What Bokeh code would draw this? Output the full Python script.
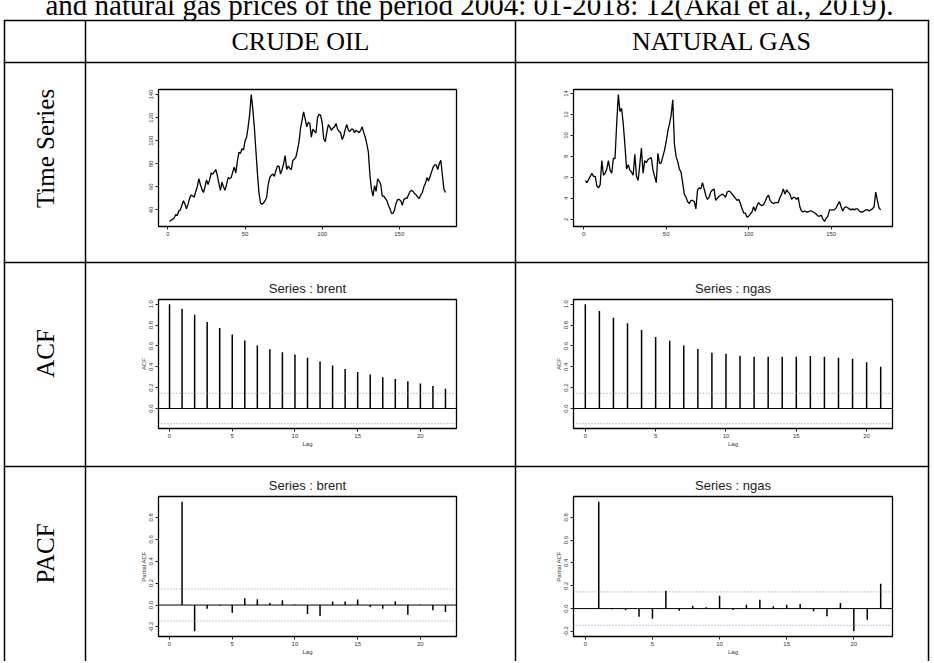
import math
from bokeh.plotting import figure
from bokeh.models import Range1d, FixedTicker, Span, GridBox, ColumnDataSource, PrintfTickFormatter
from bokeh.embed import file_html
from bokeh.resources import INLINE
from bokeh.core.properties import value

# ---------------- data ----------------
months = list(range(1, 181))
brent = [30, 31, 32, 33, 36, 35, 39, 40, 44, 48,
         45, 41, 45, 50, 53, 52, 51, 56, 60, 67,
         62, 58, 55, 60, 66, 62, 66, 72, 71, 73,
         75, 70, 63, 57, 64, 60, 57, 62, 68, 67,
         68, 73, 77, 72, 82, 90, 89, 93, 92, 100,
         103, 112, 123, 140, 128, 112, 92, 72, 55, 46,
         45, 46, 48, 51, 62, 68, 70, 71, 69, 74,
         78, 78, 71, 75, 80, 87, 75, 78, 76, 75,
         83, 84, 86, 92, 99, 111, 118, 125, 119, 112,
         116, 115, 103, 110, 108, 107, 120, 123, 122, 116,
         102, 99, 107, 114, 112, 109, 111, 112, 115, 110,
         108, 107, 101, 104, 110, 114, 109, 108, 110, 110,
         107, 109, 108, 107, 109, 112, 107, 103, 97, 90,
         70, 58, 52, 61, 56, 67, 65, 62, 52, 52,
         50, 48, 44, 41, 37, 37, 40, 46, 49, 49,
         48, 44, 49, 50, 50, 53, 56, 57, 56, 54,
         53, 51, 50, 53, 55, 60, 63, 68, 65, 69,
         73, 77, 79, 79, 75, 80, 83, 70, 58, 55]
ngas = [5.7, 5.5, 5.8, 6.1, 6.4, 6.1, 6.1, 5.2, 5.0, 5.3,
        7.6, 6.2, 6.4, 6.8, 7.6, 6.7, 6.4, 7.8, 7.8, 11.1,
        13.9, 12.3, 12.6, 11.1, 9.1, 6.8, 7.2, 6.7, 6.5, 6.2,
        8.2, 6.1, 5.7, 7.2, 8.8, 6.4, 7.6, 7.4, 7.7, 7.8,
        7.9, 6.7, 6.1, 5.5, 8.3, 7.3, 7.4, 8.0, 8.6, 9.4,
        10.4, 11.1, 11.9, 13.4, 9.2, 8.0, 7.5, 6.8, 6.5, 5.5,
        4.4, 4.1, 3.7, 3.5, 3.8, 3.8, 3.7, 3.0, 4.8, 5.0,
        4.9, 5.5, 4.9, 4.3, 3.9, 4.1, 4.6, 4.8, 4.9, 3.8,
        4.0, 4.2, 4.3, 4.4, 4.3, 4.1, 4.6, 4.7, 4.6, 4.4,
        4.2, 4.0, 3.8, 3.9, 3.5, 3.0, 2.6, 2.6, 2.2, 2.3,
        2.5, 2.7, 3.2, 2.8, 3.3, 3.6, 3.4, 3.3, 3.4, 3.7,
        4.1, 4.3, 3.8, 3.6, 3.5, 3.6, 3.6, 3.6, 4.1, 4.4,
        4.9, 4.4, 4.8, 4.6, 4.4, 3.9, 4.1, 4.1, 3.9, 4.1,
        3.2, 2.8, 2.7, 2.8, 2.7, 2.7, 2.8, 2.8, 2.7, 2.6,
        2.5, 2.3, 2.3, 2.4, 2.0, 1.8, 2.1, 2.3, 2.9, 2.9,
        2.9, 2.9, 3.1, 3.4, 3.7, 3.2, 2.8, 3.1, 3.2, 3.1,
        3.0, 2.9, 3.0, 2.9, 3.0, 3.0, 2.8, 2.7, 2.7, 2.8,
        2.9, 2.9, 2.8, 2.9, 3.0, 3.2, 4.6, 3.8, 3.1, 2.9]

acf_lags_brent = list(range(0, 23))
acf_brent = [1.0, 0.958, 0.90, 0.83, 0.773, 0.709, 0.652, 0.604, 0.569, 0.54,
             0.518, 0.486, 0.45, 0.412, 0.38, 0.351, 0.326, 0.30, 0.284, 0.262,
             0.24, 0.217, 0.19]
acf_lags_ngas = list(range(0, 22))
acf_ngas = [1.0, 0.936, 0.871, 0.819, 0.754, 0.687, 0.649, 0.605, 0.57, 0.535,
            0.526, 0.506, 0.497, 0.497, 0.497, 0.497, 0.503, 0.497, 0.488, 0.477,
            0.444, 0.40]
pacf_lags_brent = list(range(1, 23))
pacf_brent = [0.944, -0.24, -0.035, -0.006, -0.07, 0.061, 0.053, 0.018, 0.044, 0.006,
              -0.082, -0.10, 0.032, 0.032, 0.05, -0.018, -0.035, 0.035, -0.088, 0.006,
              -0.047, -0.064]
pacf_lags_ngas = list(range(1, 23))
pacf_ngas = [0.936, -0.006, -0.015, -0.071, -0.089, 0.157, -0.02, 0.024, 0.012, 0.113,
             -0.012, 0.033, 0.077, 0.021, 0.033, 0.041, -0.024, -0.068, 0.05, -0.199,
             -0.098, 0.217]

ts_xticks = [0, 50, 100, 150]
brent_yticks = [40, 60, 80, 100, 120, 140]
ngas_yticks = [2, 4, 6, 8, 10, 12, 14]
lag_ticks = [0, 5, 10, 15, 20]
acf_yticks = [0.0, 0.2, 0.4, 0.6, 0.8, 1.0]
pacf_yticks = [-0.2, 0.0, 0.2, 0.4, 0.6, 0.8, 1.0]

row_labels = ["Time Series", "ACF", "PACF"]
col_labels = ["CRUDE OIL", "NATURAL GAS"]
caption = "and natural gas prices of the period 2004: 01-2018: 12(Akal et al., 2019)."

n_obs = len(brent)
ci = 1.96 / math.sqrt(n_obs)

SANS = "Liberation Sans"
SERIF = "Liberation Serif"


def ext(lo, hi):
    d = (hi - lo) * 0.04
    return lo - d, hi + d


def base(w, h, left, right, top, bottom, xr, yr, xticks, yticks, title=None,
         xlabel=None, ylabel=None, yfmt=None):
    p = figure(width=w, height=h, output_backend="svg", toolbar_location=None,
               x_range=Range1d(*xr), y_range=Range1d(*yr),
               min_border_left=left, min_border_right=right,
               min_border_top=top, min_border_bottom=bottom)
    p.background_fill_color = "white"
    p.border_fill_color = "white"
    p.outline_line_color = "black"
    p.outline_line_width = 1.3
    p.grid.grid_line_color = None
    for ax in (p.xaxis[0], p.yaxis[0]):
        ax.axis_line_color = None
        ax.major_tick_in = 0
        ax.major_tick_out = 3
        ax.major_tick_line_color = "#222222"
        ax.minor_tick_line_color = None
        ax.major_label_text_font = SANS
        ax.major_label_text_font_size = "6px"
        ax.major_label_text_color = "#333333"
        ax.major_label_standoff = 2
        ax.axis_label_text_font = SANS
        ax.axis_label_text_font_size = "6px"
        ax.axis_label_text_font_style = "normal"
        ax.axis_label_text_color = "#333333"
        ax.axis_label_standoff = 0
    p.xaxis.ticker = FixedTicker(ticks=xticks)
    p.yaxis.ticker = FixedTicker(ticks=yticks)
    p.yaxis.major_label_orientation = "vertical"
    if yfmt:
        p.yaxis.formatter = PrintfTickFormatter(format=yfmt)
    if xlabel:
        p.xaxis.axis_label = xlabel
    if ylabel:
        p.yaxis.axis_label = ylabel
    if title:
        p.title.text = title
        p.title.align = "center"
        p.title.text_font = SANS
        p.title.text_font_style = "normal"
        p.title.text_font_size = "13px"
        p.title.text_color = "#222222"
        p.title.standoff = 7
    return p


def ts_plot(w, h, left, right, top, bottom, y, yticks):
    xr = ext(min(months), max(months))
    yr = ext(min(y), max(y))
    p = base(w, h, left, right, top, bottom, xr, yr, ts_xticks, yticks)
    src = ColumnDataSource(dict(x=months, y=y))
    p.line("x", "y", source=src, line_color="black", line_width=1.3)
    return p


def cf_plot(w, h, left, right, top, bottom, lags, vals, title, ylabel, yticks, partial):
    xr = ext(0, max(lags))
    if partial:
        yr = ext(min(min(vals), -ci), max(max(vals), ci))
    else:
        yr = ext(min(min(vals), -ci), 1.0)
    p = base(w, h, left, right, top, bottom, xr, yr, lag_ticks, yticks,
             title=title, xlabel="Lag", ylabel=ylabel, yfmt="%.1f")
    p.add_layout(Span(location=0, dimension="width", line_color="black", line_width=1))
    for loc in (ci, -ci):
        p.add_layout(Span(location=loc, dimension="width", line_color="#6f8fc9",
                          line_width=1, line_dash="1 2"))
    src = ColumnDataSource(dict(x=lags, y=vals, z=[0] * len(lags)))
    p.segment(x0="x", y0="z", x1="x", y1="y", source=src, line_color="black", line_width=1.5)
    return p


# cell tracks (page px)
COLS = [92, 413, 17, 403, 5]
ROWS = [66, 192, 10, 192, 8, 193]
W = sum(COLS)
H = sum(ROWS)

p_ts_b = ts_plot(413, 192, 66, 49, 23, 32, brent, brent_yticks)
p_ts_n = ts_plot(403, 192, 51, 24, 17, 26, ngas, ngas_yticks)
p_acf_b = cf_plot(413, 192, 63, 45, 31, 32, acf_lags_brent, acf_brent, "Series : brent", "ACF", acf_yticks, False)
p_acf_n = cf_plot(403, 192, 44, 33, 24, 27, acf_lags_ngas, acf_ngas, "Series : ngas", "ACF", acf_yticks, False)
p_pacf_b = cf_plot(413, 193, 57, 40, 25, 22, pacf_lags_brent, pacf_brent, "Series : brent", "Partial ACF", pacf_yticks, True)
p_pacf_n = cf_plot(403, 193, 45, 18, 28, 25, pacf_lags_ngas, pacf_ngas, "Series : ngas", "Partial ACF", pacf_yticks, True)

# ---------------- background table ----------------
bg = figure(frame_width=W, frame_height=H, output_backend="svg", toolbar_location=None,
            title_location=None,
            x_range=Range1d(0, W), y_range=Range1d(H, 0),
            x_axis_location=None, y_axis_location=None,
            min_border=0, min_border_left=0, min_border_right=0,
            min_border_top=0, min_border_bottom=0)
bg.outline_line_color = None
bg.background_fill_color = "white"
bg.border_fill_color = "white"
bg.xgrid.grid_line_color = None
bg.ygrid.grid_line_color = None

hy = [20, 62, 262, 466]
vx = [4, 85, 515, 928]
bg.segment(x0=[3.25] * len(hy), y0=hy, x1=[928.75] * len(hy), y1=hy, line_color="black", line_width=1.5)
bg.segment(x0=vx, y0=[20] * len(vx), x1=vx, y1=[H] * len(vx), line_color="black", line_width=1.5)

bg.text(x=[45], y=[4.5], text=[caption], text_font=value(SERIF), text_font_size=value("29px"),
        text_align="left", text_baseline="middle", text_color="black")
bg.text(x=[300, 721.5], y=[41, 41], text=col_labels, text_font=value(SERIF),
        text_font_size=value("26px"), text_align="center", text_baseline="middle", text_color="black")
bg.text(x=[45, 45, 45], y=[148, 353, 553], text=row_labels, angle=math.pi / 2,
        text_font=value(SERIF), text_font_size=value("25px"), text_align="center",
        text_baseline="middle", text_color="black")

grid = GridBox(children=[(bg, 0, 0, 6, 5),
                         (p_ts_b, 1, 1), (p_ts_n, 1, 3),
                         (p_acf_b, 3, 1), (p_acf_n, 3, 3),
                         (p_pacf_b, 5, 1), (p_pacf_n, 5, 3)],
               rows=[f"{r}px" for r in ROWS], cols=[f"{c}px" for c in COLS], spacing=0)

open("out.html", "w").write(file_html(grid, INLINE))
